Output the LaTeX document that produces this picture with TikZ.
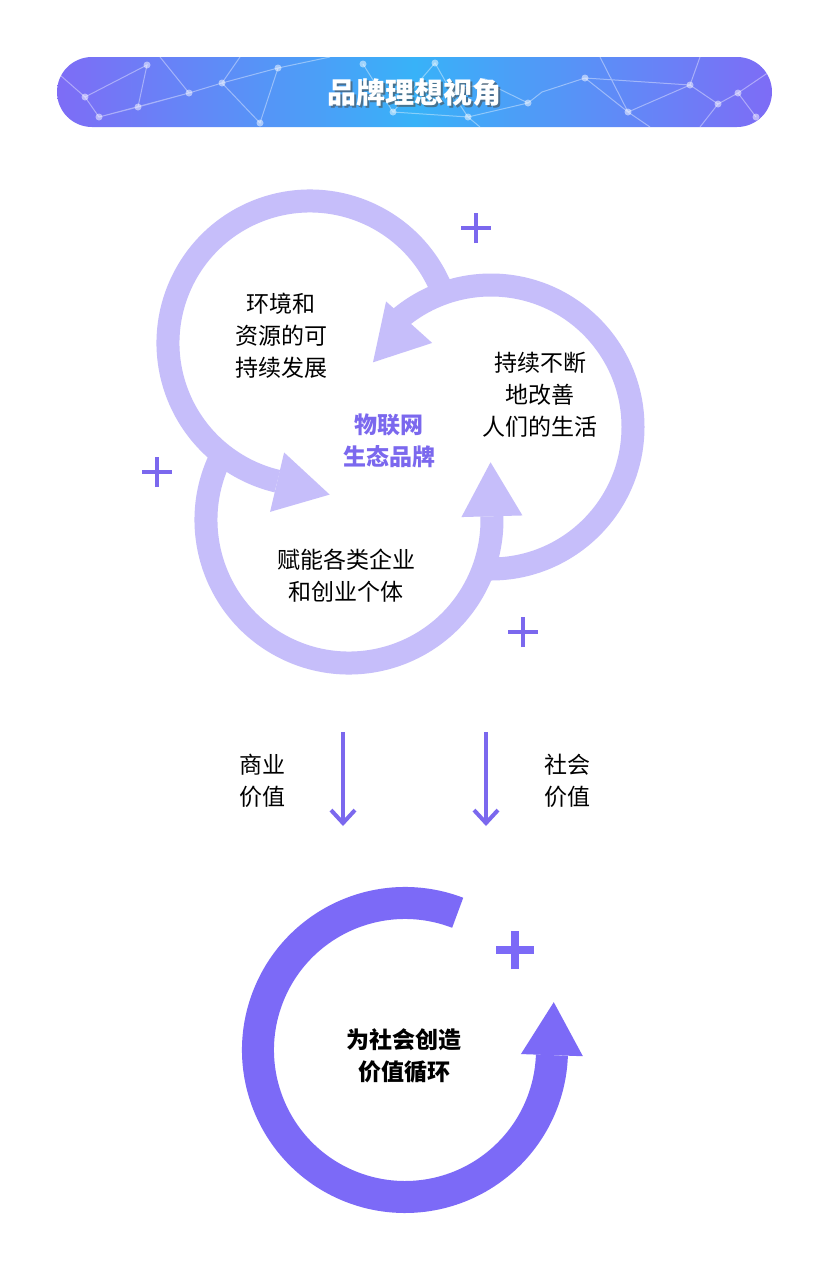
\documentclass[tikz,border=0pt]{standalone}
\usepackage{fontspec}
\setmainfont{Noto Sans CJK SC}
\usepackage{xcolor}
\usepackage{tikz}
\usetikzlibrary{arrows.meta,calc}
\definecolor{lilac}{HTML}{C6BEFA}
\definecolor{violet}{HTML}{7C6AF7}
\definecolor{plum}{HTML}{7B68EE}
\definecolor{skyblue}{HTML}{38B2F8}
\definecolor{barpurple}{HTML}{7E6CF6}

% arrow head sitting on a ring: center, radius, angle, width, length, colour, heading
\newcommand{\ringtip}[7]{%
  \fill[#6] ($(#1)+(#3:#2pt)+(#7-90:#4pt/2)$) -- ($(#1)+(#3:#2pt)+(#7:#5pt)$)
    -- ($(#1)+(#3:#2pt)+(#7+90:#4pt/2)$) -- cycle;}
\newcommand{\plussign}[4]{% position, half size, line width, colour
  \draw[#4,line width=#3pt] ($(#1)+(-#2,0)$) -- ($(#1)+(#2,0)$);
  \draw[#4,line width=#3pt] ($(#1)+(0,-#2)$) -- ($(#1)+(0,#2)$);}

\begin{document}
\begin{tikzpicture}[x=1pt,y=1pt,
  txt/.style={align=center,font=\fontsize{23}{32}\selectfont},
  ring/.style={lilac,line width=23pt},
  bigring/.style={violet,line width=32pt},
  down/.style={plum,line width=4pt,-{Straight Barb[length=13pt,width=24pt]}}]
  \useasboundingbox[fill=white] (0,0) rectangle (828,-1267);

  % title bar
  \begin{scope}
    \clip[rounded corners=35pt] (57,-57) rectangle (772,-127);
    \shade[left color=barpurple,right color=barpurple,middle color=skyblue] (57,-57) rectangle (772,-127);
    \draw[white,opacity=.4,line width=1pt]
      (60,-75) -- (85,-97) -- (99,-117) -- (138,-107) -- (147,-65) -- (85,-97)
      (99,-117) -- (189,-93) -- (222,-83) -- (278,-68) -- (330,-57)
      (138,-107) -- (189,-93) -- (160,-57)
      (222,-83) -- (260,-123) -- (278,-68)
      (222,-83) -- (240,-57)
      (363,-64) -- (393,-112) -- (435,-63) -- (452,-93) -- (485,-82) -- (528,-103) -- (542,-92)
      (393,-112) -- (468,-117) -- (528,-103)
      (452,-93) -- (468,-117) -- (480,-127)
      (600,-57) -- (628,-112) -- (690,-85) -- (718,-104) -- (738,-93) -- (756,-117)
      (585,-78) -- (628,-112) -- (650,-127)
      (585,-78) -- (690,-85) -- (700,-57)
      (718,-104) -- (700,-127)
      (738,-93) -- (772,-70)
      (542,-92) -- (585,-78);
    \foreach \p in {(85,-97),(99,-117),(138,-107),(147,-65),(189,-93),(222,-83),(260,-123),(278,-68),
      (363,-64),(393,-112),(435,-63),(452,-93),(468,-117),(485,-82),(528,-103),(585,-78),(628,-112),
      (690,-85),(718,-104),(738,-93),(756,-117)}
      \fill[white,opacity=.5] \p circle (3.5pt);
  \end{scope}
  \node[text=black!70,opacity=.6,font=\fontsize{29}{34}\selectfont\bfseries] (shadow) at (416,-95) {品牌理想视角};
  \node[text=white,font=\fontsize{29}{34}\selectfont\bfseries] (title) at (414,-93) {品牌理想视角};

  % three loops
  \coordinate (c1) at (310,-343);
  \coordinate (c2) at (491,-427);
  \coordinate (c3) at (349,-520);
  \draw[ring] ($(c3)+(152:143pt)$) arc[start angle=152,end angle=361.5,radius=143pt];
  \ringtip{c3}{143}{1.5}{61}{54}{lilac}{91.5}
  \draw[ring] ($(c2)+(-93:142pt)$) arc[start angle=-93,end angle=129.5,radius=142pt];
  \ringtip{c2}{133}{128}{62}{54}{lilac}{228}
  \draw[ring] ($(c1)+(20:142pt)$) arc[start angle=20,end angle=256.7,radius=142pt];
  \ringtip{c1}{143}{256.7}{61}{54}{lilac}{346.7}

  \node[txt] (env) at (281,-336) {环境和\\资源的可\\持续发展};
  \node[txt] (life) at (540,-395) {持续不断\\地改善\\人们的生活};
  \node[txt] (firm) at (346,-576) {赋能各类企业\\和创业个体};
  \node[txt,font=\fontsize{23}{32}\selectfont\bfseries,text=plum] (brand) at (389,-441) {物联网\\生态品牌};

  \plussign{476,-228}{15}{3.5}{plum}
  \plussign{157,-472}{15}{3.5}{plum}
  \plussign{523,-632}{15}{3.5}{plum}

  % two values flowing down
  \coordinate (b1) at (343,-732);
  \coordinate (e1) at (343,-826);
  \coordinate (b2) at (486,-732);
  \coordinate (e2) at (486,-826);
  \draw[down] (b1) -- (e1);
  \draw[down] (b2) -- (e2);
  \node[txt] (biz) at (262,-781) {商业\\价值};
  \node[txt] (soc) at (567,-781) {社会\\价值};

  % value cycle
  \coordinate (c4) at (405,-1050);
  \draw[bigring] ($(c4)+(69:147pt)$) arc[start angle=69,end angle=358,radius=147pt];
  \ringtip{c4}{147}{358}{62}{53}{violet}{88}
  \plussign{515,-950}{19}{8.5}{violet}
  \node[txt,font=\fontsize{23}{32}\selectfont\bfseries] (cycle) at (404,-1056) {为社会创造\\价值循环};
\end{tikzpicture}
\end{document}
